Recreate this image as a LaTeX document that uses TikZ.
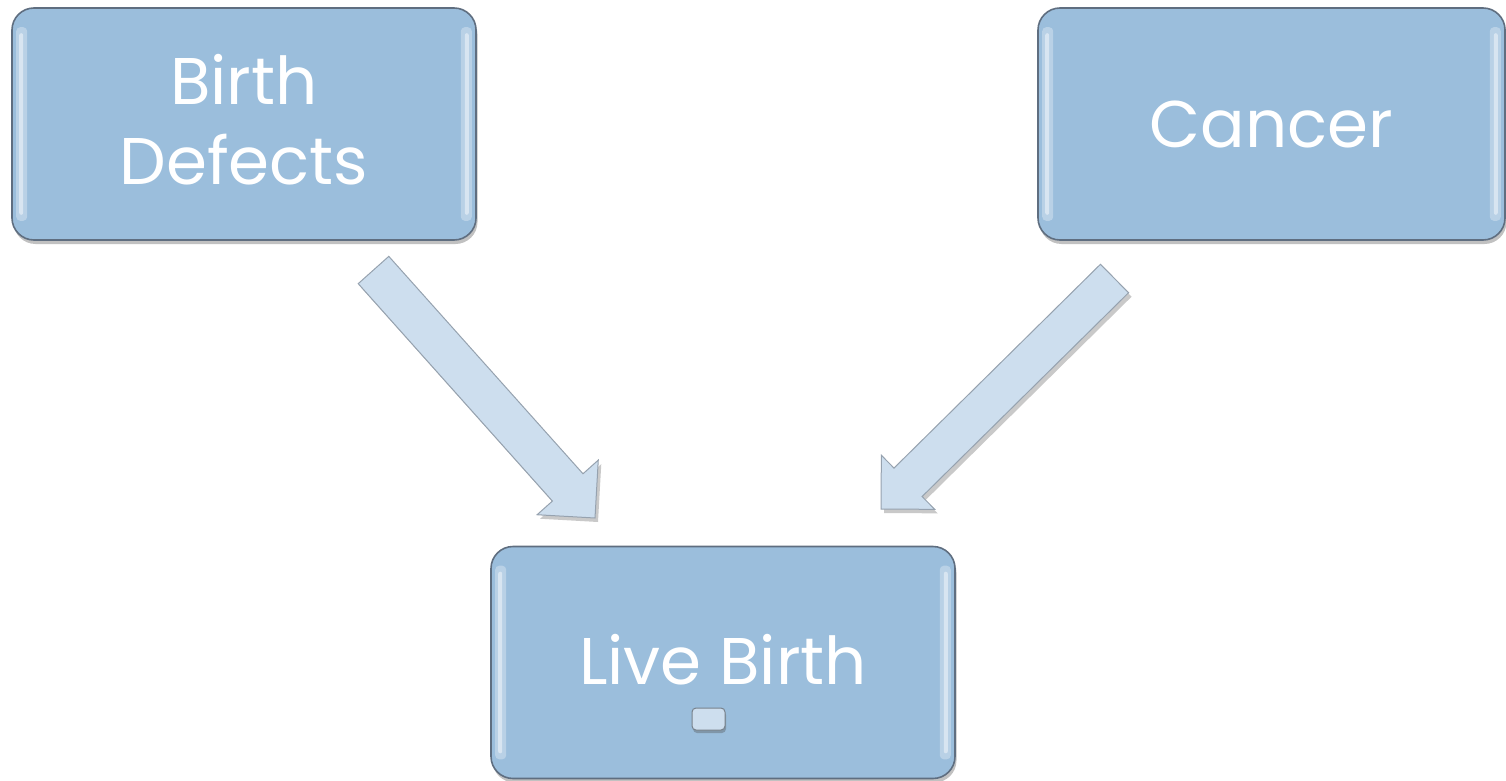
\documentclass[tikz,border=0pt]{standalone}
\usepackage{fontspec}
\setmainfont{Poppins}
\usetikzlibrary{calc,shadows}
\definecolor{boxblue}{RGB}{155,190,220}
\definecolor{boxedge}{RGB}{95,110,128}
\definecolor{arrowblue}{RGB}{205,222,238}
\definecolor{arrowedge}{RGB}{150,162,175}
\tikzset{
  bigbox/.style={draw=boxedge, line width=1.6pt, fill=boxblue, rounded corners=22pt,
    minimum width=464pt, minimum height=232pt, inner sep=0pt, text=white,
    font=\fontsize{66}{80}\selectfont, align=center,
    drop shadow={shadow xshift=1.5pt, shadow yshift=-4pt, opacity=0.35, fill=black!70}},
  shine/.style={fill=white, opacity=0.3, rounded corners=4pt},
  shinecore/.style={fill=white, opacity=0.45, rounded corners=2pt},
  blockarr/.style={draw=arrowedge, line width=1pt, fill=arrowblue, line join=miter,
    drop shadow={shadow xshift=3pt, shadow yshift=-4pt, opacity=0.3, fill=black!70}},
  smallbox/.style={draw=arrowedge!80!black, line width=1pt, fill=arrowblue, rounded corners=4pt,
    minimum width=33pt, minimum height=22pt, inner sep=0pt,
    drop shadow={shadow xshift=1pt, shadow yshift=-3pt, opacity=0.35, fill=black!70}}
}
\newcommand{\blockarrow}[5]{% tail, tip, half shaft, half head, head length
  \coordinate (hb) at ($(#2)!#5!(#1)$);
  \filldraw[blockarr] ($(#1)!#3!90:(#2)$) -- ($(hb)!#3!90:(#2)$) -- ($(hb)!#4!90:(#2)$) -- (#2)
    -- ($(hb)!#4!-90:(#2)$) -- ($(hb)!#3!-90:(#2)$) -- ($(#1)!#3!-90:(#2)$) -- cycle;}
\begin{document}
\begin{tikzpicture}[x=1pt,y=-1pt]
\useasboundingbox (0,0) rectangle (1506,781);
\node[bigbox] (bd) at (244,124) {};
\node[text=white, font=\fontsize{66}{80}\selectfont, align=center, inner sep=0pt] (bdt) at (244,120) {Birth\\Defects};
\node[bigbox, minimum width=467pt] (ca) at (1271.5,124) {Cancer};
\node[bigbox] (lb) at (723,662.5) {};
\node[text=white, font=\fontsize{66}{80}\selectfont, inner sep=0pt] (lbt) at (723,660) {Live Birth};
\foreach \n in {bd,ca,lb}{
  \fill[shine] ($(\n.north west)+(5,20)$) rectangle ($(\n.south west)+(16,-20)$);
  \fill[shinecore] ($(\n.north west)+(8,26)$) rectangle ($(\n.south west)+(12,-26)$);
  \fill[shine] ($(\n.north east)+(-16,20)$) rectangle ($(\n.south east)+(-5,-20)$);
  \fill[shinecore] ($(\n.north east)+(-12,26)$) rectangle ($(\n.south east)+(-8,-26)$);
}
\node[smallbox] (sm) at (708.5,719) {};
\coordinate (t1) at (373.5,270);
\coordinate (p1) at (595,518);
\coordinate (t2) at (1114.5,278.5);
\coordinate (p2) at (881,509);
\blockarrow{t1}{p1}{20.5pt}{41pt}{41pt}
\blockarrow{t2}{p2}{20pt}{38pt}{38pt}
\end{tikzpicture}
\end{document}
